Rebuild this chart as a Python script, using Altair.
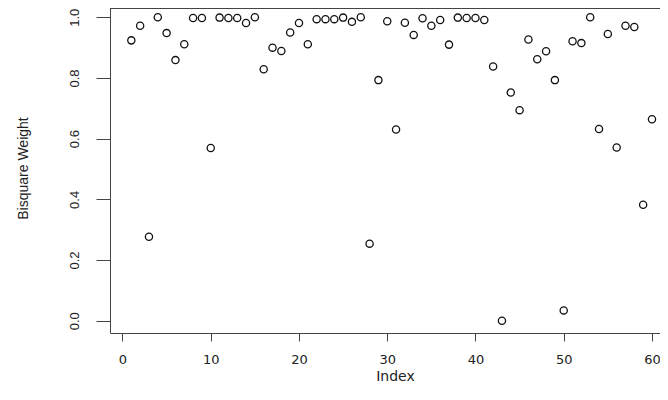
import altair as alt
import pandas as pd

# Data
index = list(range(1, 61))
weights = [
    0.924, 0.972, 0.277, 1.000, 0.948, 0.859, 0.911, 0.998, 0.998, 0.569,
    0.999, 0.998, 0.998, 0.981, 1.000, 0.829, 0.900, 0.889, 0.950, 0.981,
    0.911, 0.994, 0.994, 0.994, 0.999, 0.985, 1.000, 0.254, 0.793, 0.987,
    0.630, 0.982, 0.942, 0.997, 0.972, 0.991, 0.910, 0.999, 0.998, 0.998,
    0.991, 0.838, 0.000, 0.752, 0.694, 0.927, 0.862, 0.888, 0.793, 0.034,
    0.921, 0.915, 1.000, 0.632, 0.945, 0.571, 0.972, 0.968, 0.382, 0.664,
]
x_ticks = [0, 10, 20, 30, 40, 50, 60]
y_ticks = [0.0, 0.2, 0.4, 0.6, 0.8, 1.0]

df = pd.DataFrame({"Index": index, "Weight": weights})

W = 550
H = 325
frame_color = "#444444"
text_color = "#222222"

points = alt.Chart(df).mark_point(
    filled=False, shape="circle", size=52, strokeWidth=1.3, color="#111111", opacity=1
).encode(
    x=alt.X(
        "Index:Q",
        scale=alt.Scale(domain=[-1.416, 60.91], nice=False, zero=False),
        axis=alt.Axis(
            values=x_ticks,
            grid=False,
            tickSize=8,
            labelPadding=12,
            labelFont="DejaVu Sans",
            labelFontSize=13,
            labelFlush=False,
            labelOverlap=False,
            title="Index",
            titleFont="DejaVu Sans",
            titleFontSize=14,
            titleFontWeight="normal",
            titleX=285,
            titleY=47,
            titleBaseline="alphabetic",
            titleAlign="center",
        ),
    ),
    y=alt.Y(
        "Weight:Q",
        scale=alt.Scale(domain=[-0.0405, 1.0307], nice=False, zero=False),
        axis=alt.Axis(
            values=y_ticks,
            format=".1f",
            grid=False,
            tickSize=14,
            labelAngle=270,
            labelAlign="center",
            labelBaseline="alphabetic",
            labelPadding=18,
            labelFont="Liberation Sans",
            labelFontSize=13,
            labelFlush=False,
            labelOverlap=False,
            title="Bisquare Weight",
            titleFont="Liberation Sans",
            titleFontSize=14,
            titleFontWeight="normal",
            titleAngle=270,
            titleX=-83,
            titleY=160,
            titleBaseline="alphabetic",
            titleAlign="center",
        ),
    ),
)

top_line = alt.Chart(pd.DataFrame({"a": [0]})).mark_rule(
    color=frame_color, strokeWidth=1
).encode(
    x=alt.value(0), x2=alt.value(W), y=alt.value(0.5)
)

chart = alt.layer(top_line, points).properties(
    width=W,
    height=H,
    autosize=alt.AutoSizeParams(type="none"),
    padding={"left": 102, "top": 0, "right": 0, "bottom": 52},
    background="white",
).configure_view(
    strokeWidth=0
).configure_axis(
    domainColor=frame_color,
    tickColor=frame_color,
    domainWidth=1,
    tickWidth=1,
    labelColor=text_color,
    titleColor=text_color,
)

chart.save("out.html", embed_options={"renderer": "svg", "actions": False})
